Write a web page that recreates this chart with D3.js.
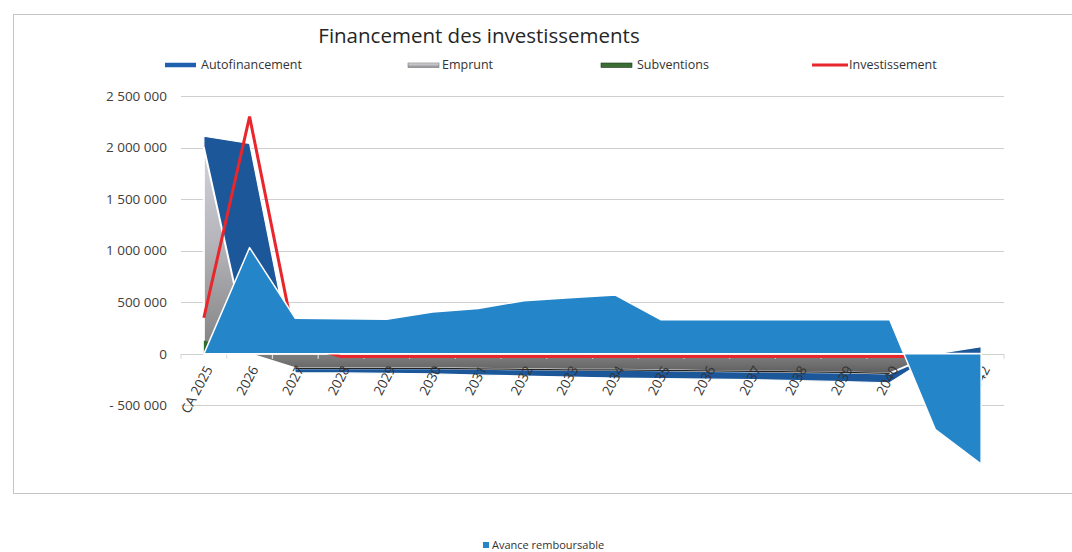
<!DOCTYPE html>
<html><head><meta charset="utf-8">
<script src="https://cdn.jsdelivr.net/npm/d3@7"></script>
<style>
html,body{margin:0;padding:0;background:#fff;}
svg{display:block;font-family:"Open Sans",sans-serif;}
</style></head>
<body>
<svg id="c" width="1072" height="552"></svg>
<script>
const categories = ["CA 2025","2026","2027","2028","2029","2030","2031","2032","2033","2034","2035","2036","2037","2038","2039","2040","2041","2042"];
const autofinancement = [2110000, 2040000, -185000, -185000, -190000, -195000, -205000, -215000, -225000, -235000, -240000, -245000, -250000, -260000, -270000, -280000, 0, 70000];
const emprunt = [2000000, 0, -140000, -140000, -140000, -140000, -145000, -150000, -155000, -155000, -160000, -165000, -170000, -175000, -180000, -190000, 0, 0];
const subventions = [130000, 0, 0, 0, 0, 0, 0, 0, 0, 0, 0, 0, 0, 0, 0, 0, 0, 0];
const investissement = [350000, 2300000, 100000, -25000, -25000, -25000, -25000, -25000, -25000, -25000, -25000, -25000, -25000, -25000, -25000, -25000, -25000, -25000];
const avanceRemboursable = [0, 1030000, 345000, 340000, 335000, 405000, 440000, 515000, 545000, 570000, 330000, 330000, 330000, 330000, 330000, 330000, -735000, -1070000];
const yTicks = [-500000, 0, 500000, 1000000, 1500000, 2000000, 2500000];
const title = "Financement des investissements";
const legendTop = ["Autofinancement", "Emprunt", "Subventions", "Investissement"];
const legendBottom = "Avance remboursable";

const svg = d3.select("#c");
const x = d3.scaleBand().domain(categories).range([181, 1004]);
const cx = c => x(c) + x.bandwidth() / 2;
const y = d3.scaleLinear().domain([-1000000, 2500000]).range([457, 96]);

const defs = svg.append("defs");
const g1 = defs.append("linearGradient").attr("id", "grayGrad")
  .attr("gradientUnits", "userSpaceOnUse")
  .attr("x1", 0).attr("x2", 0).attr("y1", y(2100000)).attr("y2", y(-200000));
[[0, "#d6d6de"], [0.45, "#b4b4ba"], [0.8, "#8e8e90"], [0.93, "#7a7a7a"], [1, "#5c5c5c"]].forEach(s =>
  g1.append("stop").attr("offset", s[0]).attr("stop-color", s[1]));
const g2 = defs.append("linearGradient").attr("id", "grayLeg").attr("x1", 0).attr("x2", 0).attr("y1", 0).attr("y2", 1);
[[0, "#e0e0e6"], [1, "#8a8a8e"]].forEach(s => g2.append("stop").attr("offset", s[0]).attr("stop-color", s[1]));

// chart frame
svg.append("rect").attr("x", 13.5).attr("y", 14.5).attr("width", 1080).attr("height", 479)
  .attr("fill", "none").attr("stroke", "#c4c4c4").attr("stroke-width", 1);

// title
svg.append("text").attr("x", 479).attr("y", 43).attr("text-anchor", "middle")
  .attr("font-size", 20.5).attr("fill", "#262626").text(title);

// gridlines + y labels
const fmt = v => {
  const s = d3.format(",")(Math.abs(v)).replace(/,/g, " ");
  return v < 0 ? "- " + s : s;
};
yTicks.forEach(t => {
  svg.append("line").attr("x1", 181).attr("x2", 1004).attr("y1", Math.round(y(t)) + 0.5).attr("y2", Math.round(y(t)) + 0.5)
    .attr("stroke", "#cfcfcf").attr("stroke-width", 1);
  svg.append("text").attr("x", 167).attr("y", y(t)).attr("dy", "0.35em").attr("text-anchor", "end")
    .attr("font-size", 13.5).attr("fill", "#404040").text(fmt(t));
});

const idx = d3.range(categories.length);
const area = vals => d3.area().x(i => cx(categories[i])).y0(y(0)).y1(i => y(vals[i]))(idx);

// Autofinancement
svg.append("path").attr("d", area(autofinancement)).attr("fill", "#1b5799")
  .attr("stroke", "#fff").attr("stroke-width", 1.2).attr("stroke-linejoin", "round");
// Emprunt
svg.append("path").attr("d", area(emprunt)).attr("fill", "url(#grayGrad)")
  .attr("stroke", "#fff").attr("stroke-width", 2).attr("stroke-linejoin", "round");
svg.append("path").attr("d", d3.line().defined(i => emprunt[i] < 0 && i < 16)
    .x(i => cx(categories[i])).y(i => y(emprunt[i]))(idx))
  .attr("fill", "none").attr("stroke", "#222").attr("stroke-width", 1.3);
// Subventions
svg.append("path").attr("d", area(subventions)).attr("fill", "#2f6a2c");

// axis ticks
categories.concat([null]).forEach((c, i) => {
  const xx = 181 + i * x.step();
  svg.append("line").attr("x1", xx).attr("x2", xx).attr("y1", y(0)).attr("y2", y(0) + 5)
    .attr("stroke", "#dcdcdc").attr("stroke-width", 1.2);
});

// Investissement
svg.append("path").attr("d", d3.line().x(i => cx(categories[i])).y(i => y(investissement[i]))(idx))
  .attr("fill", "none").attr("stroke", "#e8262b").attr("stroke-width", 3).attr("stroke-linejoin", "miter");

// x labels (drawn beneath the front area)
categories.forEach(c => {
  svg.append("text").attr("transform", `translate(${cx(c) + 5},${y(0) + 13}) rotate(-62)`)
    .attr("text-anchor", "end").attr("dy", "0.35em")
    .attr("font-size", 13.5).attr("fill", "#333").text(c);
});

// Avance remboursable
svg.append("path").attr("d", area(avanceRemboursable)).attr("fill", "#2585c9")
  .attr("stroke", "#fff").attr("stroke-width", 1.5).attr("stroke-linejoin", "round");

// top legend
const leg = [
  {x: 165, w: 31, tx: 201, type: "line", color: "#1f5fae", sw: 4.5},
  {x: 408, w: 31, tx: 442, type: "rect", color: "url(#grayLeg)"},
  {x: 601, w: 31, tx: 637, type: "rect", color: "#3a6e35"},
  {x: 812, w: 36, tx: 849, type: "line", color: "#e8262b", sw: 3}
];
leg.forEach((l, i) => {
  if (l.type === "line") {
    svg.append("line").attr("x1", l.x).attr("x2", l.x + l.w).attr("y1", 65).attr("y2", 65)
      .attr("stroke", l.color).attr("stroke-width", l.sw);
  } else {
    svg.append("rect").attr("x", l.x).attr("y", 63).attr("width", l.w).attr("height", 4.5)
      .attr("fill", l.color).attr("stroke", i === 2 ? "#1e3a1c" : "#777").attr("stroke-width", 0.6);
  }
  svg.append("text").attr("x", l.tx).attr("y", 65).attr("dy", "0.35em")
    .attr("font-size", 12.5).attr("fill", "#333").text(legendTop[i]);
});

// bottom legend
svg.append("rect").attr("x", 483).attr("y", 542).attr("width", 6).attr("height", 6).attr("fill", "#2585c9");
svg.append("text").attr("x", 492).attr("y", 545).attr("dy", "0.35em")
  .attr("font-size", 11).attr("fill", "#333").text(legendBottom);
</script>
</body></html>
